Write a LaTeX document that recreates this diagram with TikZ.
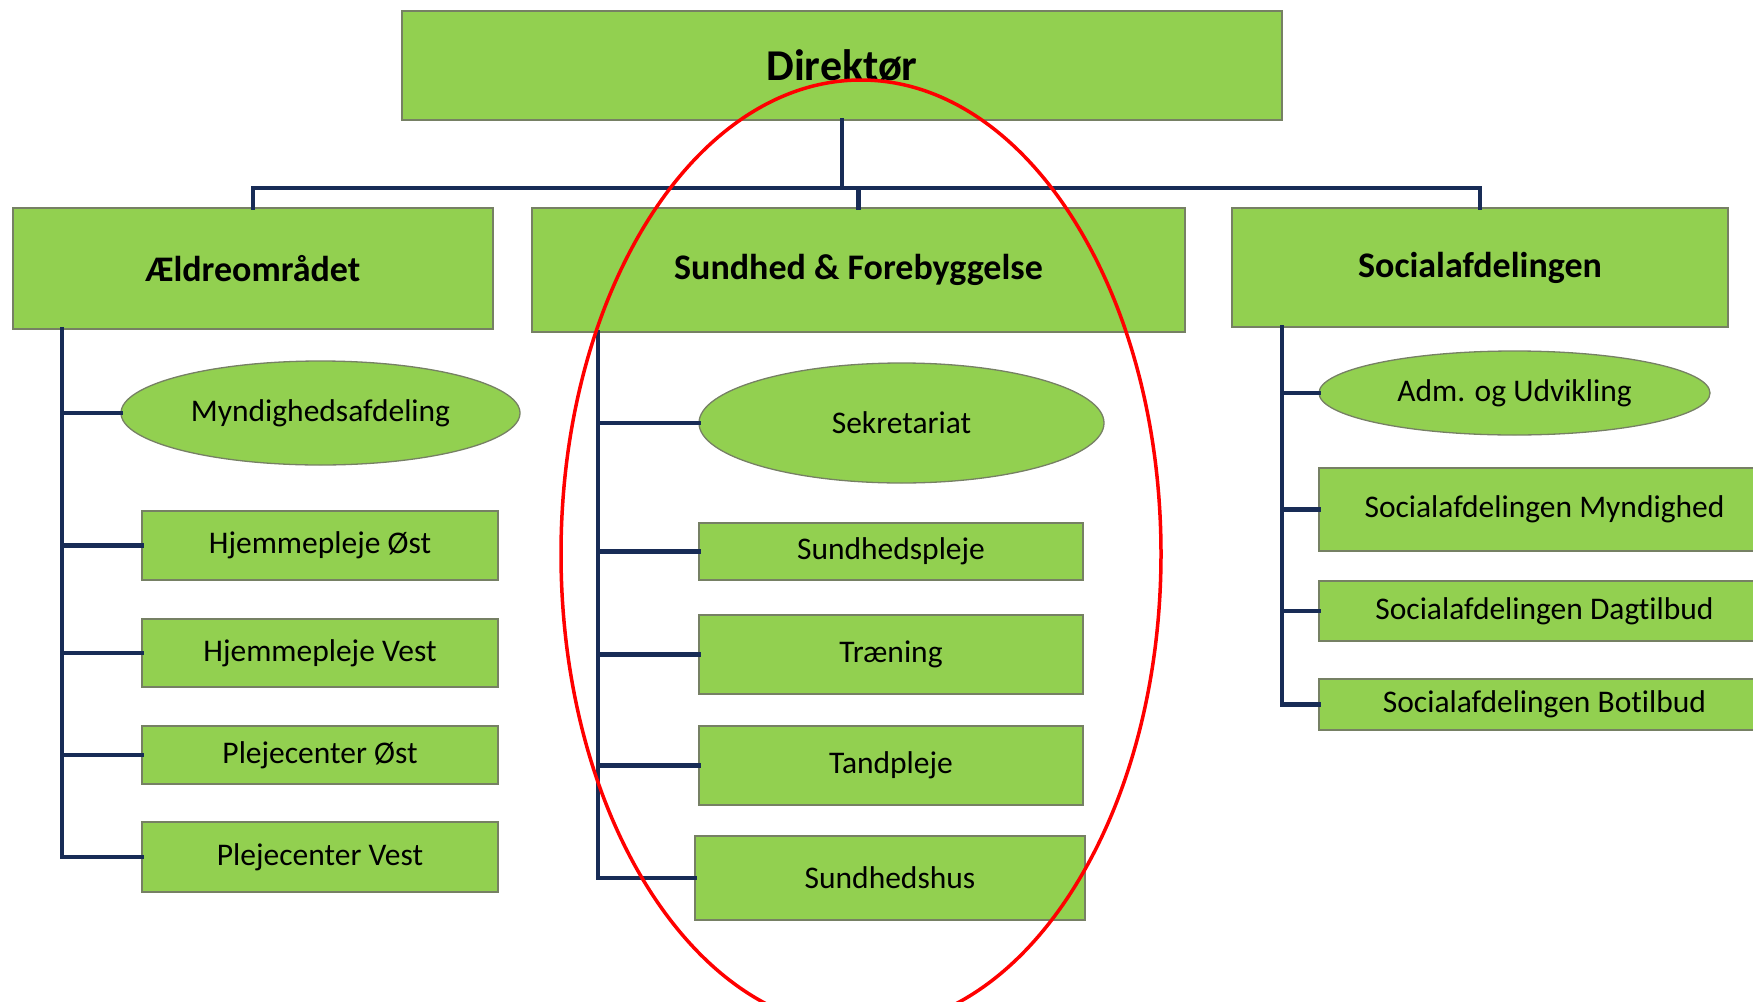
\documentclass[tikz,border=0pt]{standalone}
\usepackage{fontspec}
\setmainfont[Ligatures=NoCommon]{Carlito}
\usetikzlibrary{shapes.geometric}
\definecolor{boxgreen}{HTML}{92D050}
\definecolor{boxedge}{RGB}{118,128,100}
\definecolor{navy}{RGB}{24,44,86}
\tikzset{
  unitbox/.style={draw=boxedge, fill=boxgreen, line width=1.3pt, inner sep=0pt, rectangle,
    font=\fontsize{31.5}{36}\selectfont, text=black},
  headbox/.style={unitbox, font=\fontsize{36}{42}\selectfont\bfseries},
  topbox/.style={unitbox, font=\fontsize{44}{50}\selectfont\bfseries},
  unitoval/.style={unitbox, ellipse},
  conn/.style={draw=navy, line width=4.5pt, line join=miter, line cap=rect},
  ring/.style={draw=red, line width=3.5pt}
}
\begin{document}
\begin{tikzpicture}[x=1pt, y=-1pt]
\useasboundingbox (0,0) rectangle (1753,1001);
\clip (0,0) rectangle (1753,1001);
% head boxes
\node[topbox, minimum width=880pt, minimum height=109pt] (dir) at (842,65.5) {Direktør};
\node[headbox, minimum width=480pt, minimum height=121pt] (aeld) at (253,268.5) {Ældreområdet};
\node[headbox, minimum width=653pt, minimum height=124pt] (sund) at (858.5,270) {Sundhed \& Forebyggelse};
\node[headbox, minimum width=496pt, minimum height=119pt] (soc) at (1480,267.5) {Socialafdelingen};
% Ældre children
\node[unitoval, minimum width=399pt, minimum height=104pt] (mynd) at (320.5,413) {Myndighedsafdeling};
\node[unitbox, minimum width=356pt, minimum height=69pt] (hoe) at (320,545.5) {Hjemmepleje Øst};
\node[unitbox, minimum width=356pt, minimum height=68pt] (hve) at (320,653) {Hjemmepleje Vest};
\node[unitbox, minimum width=356pt, minimum height=58pt] (poe) at (320,755) {Plejecenter Øst};
\node[unitbox, minimum width=356pt, minimum height=70pt] (pve) at (320,857) {Plejecenter Vest};
% Sundhed children
\node[unitoval, minimum width=405pt, minimum height=120pt] (sek) at (901.5,423) {Sekretariat};
\node[unitbox, minimum width=384pt, minimum height=57pt] (spl) at (891,551.5) {Sundhedspleje};
\node[unitbox, minimum width=384pt, minimum height=79pt] (trn) at (891,654.5) {Træning};
\node[unitbox, minimum width=384pt, minimum height=79pt] (tan) at (891,765.5) {Tandpleje};
\node[unitbox, minimum width=390pt, minimum height=84pt] (shu) at (890,878) {Sundhedshus};
% Social children
\node[unitoval, minimum width=391pt, minimum height=84pt] (adm) at (1514.5,393) {Adm. og Udvikling};
\node[unitbox, minimum width=451pt, minimum height=83pt] (smy) at (1544.5,509.5) {Socialafdelingen Myndighed};
\node[unitbox, minimum width=451pt, minimum height=60pt] (sdt) at (1544.5,611) {Socialafdelingen Dagtilbud};
\node[unitbox, minimum width=451pt, minimum height=51pt] (sbo) at (1544.5,704.5) {Socialafdelingen Botilbud};
% spine coordinates
\coordinate (bus) at (0,188);
\coordinate (lsp) at (62,0);
\coordinate (msp) at (598,0);
\coordinate (rsp) at (1282,0);
% top connectors
\draw[conn] (dir.south) -- (dir.south |- bus);
\draw[conn] (aeld.north) -- (aeld.north |- bus) -- (soc.north |- bus) -- (soc.north);
\draw[conn] (sund.north) -- (sund.north |- bus);
% left spine
\draw[conn] (aeld.south -| lsp) |- (pve.west);
\foreach \n in {mynd,hoe,hve,poe}{\draw[conn] (\n.west) -- (\n.west -| lsp);}
% middle spine
\draw[conn] (sund.south -| msp) |- (shu.west);
\foreach \n in {sek,spl,trn,tan}{\draw[conn] (\n.west) -- (\n.west -| msp);}
% right spine
\draw[conn] (soc.south -| rsp) |- (sbo.west);
\foreach \n in {adm,smy,sdt}{\draw[conn] (\n.west) -- (\n.west -| rsp);}
% red highlight
\draw[ring] (861,554) ellipse [x radius=300pt, y radius=474pt];
\end{tikzpicture}
\end{document}
